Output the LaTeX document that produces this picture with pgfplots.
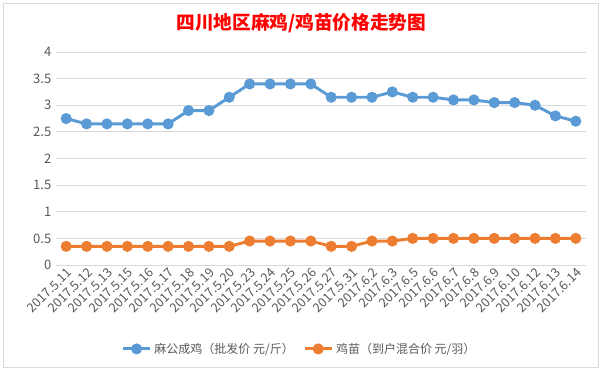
\documentclass[border=0pt]{standalone}
\usepackage{fontspec}
\setmainfont{Noto Sans CJK SC}
\usepackage{pgfplots}
\pgfplotsset{compat=1.18}
\definecolor{cblue}{HTML}{5B9BD5}
\definecolor{corange}{HTML}{ED7D31}
\definecolor{tickgray}{HTML}{595959}
\definecolor{gridgray}{HTML}{D9D9D9}
\begin{document}
\begin{tikzpicture}
\path[use as bounding box, fill=white] (0,0) rectangle (453pt,278.25pt);
\draw[gridgray, line width=0.6pt] (2.5pt,2.5pt) rectangle (448.5pt,275.75pt);
\node[text=red, font=\bfseries\fontsize{14}{16}\selectfont] at (226pt,261pt) {四川地区麻鸡/鸡苗价格走势图};
\begin{axis}[
  at={(42pt,79.5pt)}, anchor=south west,
  scale only axis, width=397.5pt, height=159.75pt,
  xmin=-0.5, xmax=25.5, ymin=0, ymax=4,
  ytick={0,0.5,1,1.5,2,2.5,3,3.5,4},
  yticklabels={0,0.5,1,1.5,2,2.5,3,3.5,4},
  xtick={0,...,25},
  xticklabels={2017.5.11,2017.5.12,2017.5.13,2017.5.15,2017.5.16,2017.5.17,2017.5.18,2017.5.19,2017.5.20,2017.5.23,2017.5.24,2017.5.25,2017.5.26,2017.5.27,2017.5.31,2017.6.2,2017.6.3,2017.6.5,2017.6.6,2017.6.7,2017.6.8,2017.6.9,2017.6.10,2017.6.12,2017.6.13,2017.6.14},
  x tick label style={rotate=45, anchor=north east, font=\fontsize{9.5}{11}\selectfont, text=tickgray, inner sep=1pt},
  y tick label style={font=\fontsize{9.8}{11}\selectfont, text=tickgray},
  axis line style={draw=none},
  major tick length=0pt,
  ymajorgrids, major grid style={gridgray, line width=0.6pt},
  legend columns=2,
  legend style={at={(0.46,-0.394)}, anchor=center, draw=none, fill=none, font=\fontsize{9}{11}\selectfont, text=tickgray, /tikz/every even column/.append style={column sep=5pt}},
  legend image code/.code={\draw[#1, mark repeat=2, mark phase=2] plot coordinates {(0cm,0cm) (0.36cm,0cm) (0.72cm,0cm)};},
]
\addplot[cblue, line width=2.2pt, mark=*, mark size=3pt, mark options={solid}] coordinates {
(0,2.75)(1,2.65)(2,2.65)(3,2.65)(4,2.65)(5,2.65)(6,2.9)(7,2.9)(8,3.15)(9,3.4)(10,3.4)(11,3.4)(12,3.4)(13,3.15)(14,3.15)(15,3.15)(16,3.25)(17,3.15)(18,3.15)(19,3.1)(20,3.1)(21,3.05)(22,3.05)(23,3.0)(24,2.8)(25,2.7)};
\addlegendentry{麻公成鸡（批发价 元/斤）}
\addplot[corange, line width=2.2pt, mark=*, mark size=3pt, mark options={solid}] coordinates {
(0,0.35)(1,0.35)(2,0.35)(3,0.35)(4,0.35)(5,0.35)(6,0.35)(7,0.35)(8,0.35)(9,0.45)(10,0.45)(11,0.45)(12,0.45)(13,0.35)(14,0.35)(15,0.45)(16,0.45)(17,0.5)(18,0.5)(19,0.5)(20,0.5)(21,0.5)(22,0.5)(23,0.5)(24,0.5)(25,0.5)};
\addlegendentry{鸡苗（到户混合价 元/羽）}
\end{axis}
\end{tikzpicture}
\end{document}
